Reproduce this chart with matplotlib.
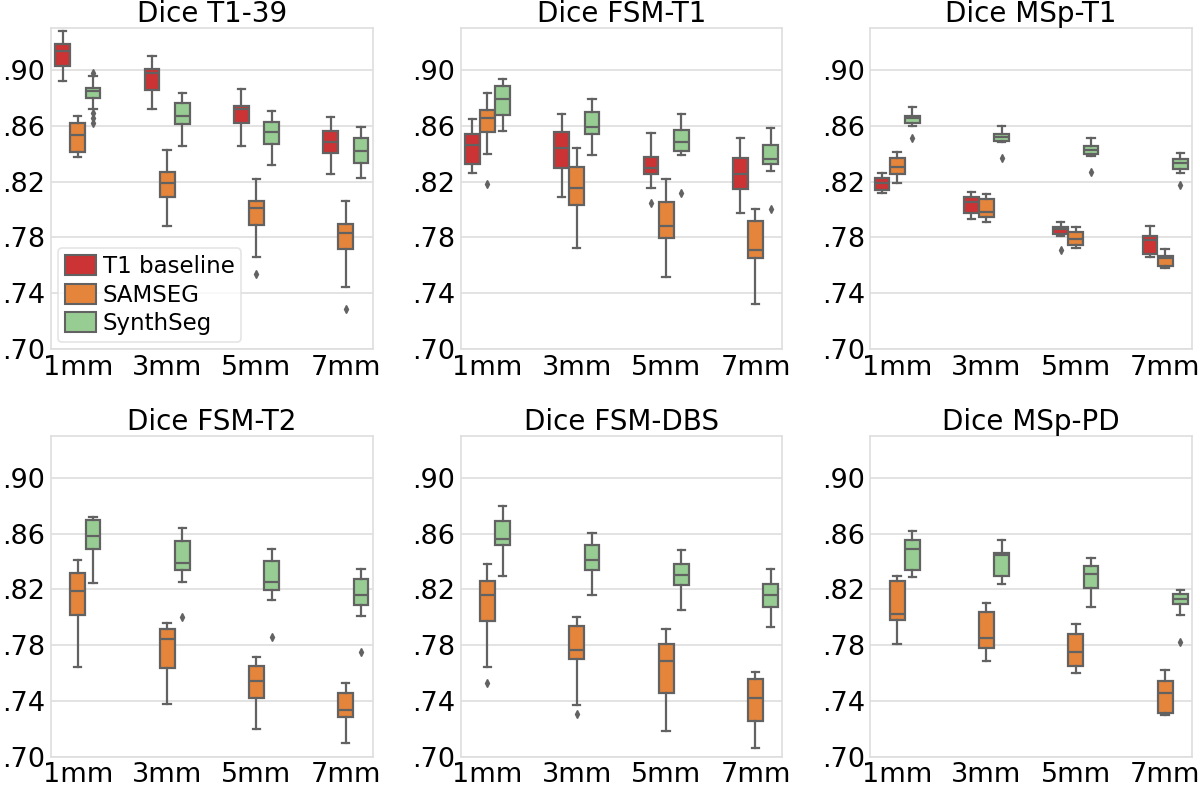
import matplotlib
matplotlib.use("Agg")
import matplotlib.pyplot as plt
from matplotlib.patches import Patch

categories = ["1mm", "3mm", "5mm", "7mm"]
methods = ["T1 baseline", "SAMSEG", "SynthSeg"]
titles = ["Dice T1-39", "Dice FSM-T1", "Dice MSp-T1",
          "Dice FSM-T2", "Dice FSM-DBS", "Dice MSp-PD"]
yticks = [0.70, 0.74, 0.78, 0.82, 0.86, 0.90]
ytick_labels = [".70", ".74", ".78", ".82", ".86", ".90"]

# (whisker low, Q1, median, Q3, whisker high) for 1mm, 3mm, 5mm, 7mm
t139_t1 = [(0.8924, 0.9029, 0.9139, 0.9184, 0.9280),
           (0.8723, 0.8861, 0.8976, 0.9007, 0.9103),
           (0.8455, 0.8618, 0.8720, 0.8742, 0.8864),
           (0.8252, 0.8403, 0.8481, 0.8565, 0.8661)]
t139_sam = [(0.8374, 0.8415, 0.8534, 0.8622, 0.8673),
            (0.7882, 0.8087, 0.8192, 0.8266, 0.8427),
            (0.7657, 0.7887, 0.8008, 0.8061, 0.8219),
            (0.7447, 0.7714, 0.7829, 0.7896, 0.8063)]
t139_syn = [(0.8720, 0.8802, 0.8852, 0.8873, 0.8957),
            (0.8455, 0.8611, 0.8673, 0.8766, 0.8838),
            (0.8319, 0.8467, 0.8558, 0.8630, 0.8708),
            (0.8228, 0.8331, 0.8422, 0.8515, 0.8589)]
t139_t1_out = [[], [], [], []]
t139_sam_out = [[], [], [0.7538], [0.7287]]
t139_syn_out = [[0.8980, 0.8690, 0.8660, 0.8618], [], [], []]

fsmt1_t1 = [(0.8259, 0.8324, 0.8462, 0.8541, 0.8649),
            (0.8087, 0.8295, 0.8438, 0.8556, 0.8685),
            (0.8152, 0.8255, 0.8300, 0.8379, 0.8551),
            (0.7973, 0.8145, 0.8255, 0.8372, 0.8515)]
fsmt1_sam = [(0.8395, 0.8556, 0.8654, 0.8713, 0.8838),
             (0.7726, 0.8032, 0.8152, 0.8307, 0.8443),
             (0.7514, 0.7798, 0.7884, 0.8056, 0.8219),
             (0.7323, 0.7655, 0.7710, 0.7918, 0.8001)]
fsmt1_syn = [(0.8563, 0.8677, 0.8790, 0.8885, 0.8933),
             (0.8391, 0.8539, 0.8589, 0.8697, 0.8790),
             (0.8391, 0.8422, 0.8486, 0.8570, 0.8682),
             (0.8278, 0.8324, 0.8362, 0.8462, 0.8587)]
fsmt1_t1_out = [[], [], [0.8044], []]
fsmt1_sam_out = [[0.8180], [], [], []]
fsmt1_syn_out = [[], [], [0.8121], [0.8004]]

mspt1_t1 = [(0.8116, 0.8140, 0.8192, 0.8228, 0.8259),
            (0.7930, 0.7973, 0.8051, 0.8092, 0.8128),
            (0.7812, 0.7824, 0.7858, 0.7877, 0.7913),
            (0.7657, 0.7681, 0.7781, 0.7810, 0.7884)]
mspt1_sam = [(0.8188, 0.8252, 0.8307, 0.8372, 0.8415),
             (0.7908, 0.7949, 0.7984, 0.8075, 0.8109),
             (0.7722, 0.7746, 0.7786, 0.7836, 0.7872),
             (0.7583, 0.7597, 0.7655, 0.7667, 0.7714)]
mspt1_syn = [(0.8599, 0.8618, 0.8654, 0.8673, 0.8737),
             (0.8481, 0.8491, 0.8522, 0.8541, 0.8599),
             (0.8386, 0.8395, 0.8427, 0.8455, 0.8510),
             (0.8259, 0.8288, 0.8331, 0.8360, 0.8407)]
mspt1_t1_out = [[], [], [0.7710], []]
mspt1_sam_out = [[], [], [], []]
mspt1_syn_out = [[0.8515], [0.8367], [0.8271], [0.8176]]

fsmt2_sam = [(0.7642, 0.8013, 0.8188, 0.8320, 0.8408),
             (0.7378, 0.7635, 0.7846, 0.7917, 0.7958),
             (0.7199, 0.7419, 0.7541, 0.7649, 0.7714),
             (0.7098, 0.7283, 0.7338, 0.7457, 0.7527)]
fsmt2_syn = [(0.8248, 0.8487, 0.8583, 0.8696, 0.8720),
             (0.8253, 0.8337, 0.8389, 0.8545, 0.8643),
             (0.8121, 0.8198, 0.8253, 0.8404, 0.8492),
             (0.8006, 0.8085, 0.8157, 0.8272, 0.8349)]
fsmt2_sam_out = [[], [], [], []]
fsmt2_syn_out = [[], [0.8001], [0.7857], [0.7750]]

fsmdbs_sam = [(0.7642, 0.7972, 0.8157, 0.8257, 0.8384),
              (0.7371, 0.7702, 0.7762, 0.7941, 0.8001),
              (0.7187, 0.7455, 0.7690, 0.7805, 0.7917),
              (0.7062, 0.7259, 0.7419, 0.7558, 0.7611)]
fsmdbs_syn = [(0.8296, 0.8516, 0.8559, 0.8691, 0.8799),
              (0.8162, 0.8337, 0.8408, 0.8521, 0.8607),
              (0.8049, 0.8234, 0.8305, 0.8384, 0.8480),
              (0.7929, 0.8073, 0.8157, 0.8241, 0.8344)]
fsmdbs_sam_out = [[0.7529], [0.7307], [], []]
fsmdbs_syn_out = [[], [], [], []]

msppd_sam = [(0.7805, 0.7977, 0.8025, 0.8260, 0.8296),
             (0.7685, 0.7781, 0.7853, 0.8037, 0.8102),
             (0.7599, 0.7647, 0.7754, 0.7881, 0.7949),
             (0.7302, 0.7311, 0.7457, 0.7546, 0.7623)]
msppd_syn = [(0.8289, 0.8337, 0.8487, 0.8552, 0.8617),
             (0.8241, 0.8293, 0.8444, 0.8463, 0.8552),
             (0.8073, 0.8210, 0.8313, 0.8365, 0.8425),
             (0.8013, 0.8097, 0.8133, 0.8169, 0.8198)]
msppd_sam_out = [[], [], [], []]
msppd_syn_out = [[], [], [], [0.7822]]

panels = [
    [(t139_t1, t139_t1_out), (t139_sam, t139_sam_out), (t139_syn, t139_syn_out)],
    [(fsmt1_t1, fsmt1_t1_out), (fsmt1_sam, fsmt1_sam_out), (fsmt1_syn, fsmt1_syn_out)],
    [(mspt1_t1, mspt1_t1_out), (mspt1_sam, mspt1_sam_out), (mspt1_syn, mspt1_syn_out)],
    [None, (fsmt2_sam, fsmt2_sam_out), (fsmt2_syn, fsmt2_syn_out)],
    [None, (fsmdbs_sam, fsmdbs_sam_out), (fsmdbs_syn, fsmdbs_syn_out)],
    [None, (msppd_sam, msppd_sam_out), (msppd_syn, msppd_syn_out)],
]

colors = ["#cb3335", "#e5843b", "#97cd92"]
edge = "#626262"
grid_c = "#dedede"
offsets = [-0.17, 0.0, 0.17]
box_w = 0.165

fig = plt.figure(figsize=(12, 7.88), dpi=100)
lefts = [0.0425, 0.3839, 0.7253]
bottoms = [0.5571, 0.0397]
w, h = 0.268, 0.407

for p, series in enumerate(panels):
    r, c = divmod(p, 3)
    ax = fig.add_axes([lefts[c], bottoms[r], w, h])
    for m, s in enumerate(series):
        if s is None:
            continue
        vals, outs = s
        stats = []
        pos = []
        for i, (lo, q1, med, q3, hi) in enumerate(vals):
            stats.append(dict(whislo=lo, q1=q1, med=med, q3=q3, whishi=hi,
                              fliers=outs[i]))
            pos.append(i + offsets[m])
        ax.bxp(stats, positions=pos, widths=box_w, patch_artist=True,
               showfliers=True, manage_ticks=False,
               boxprops=dict(facecolor=colors[m], edgecolor=edge, linewidth=1.6),
               medianprops=dict(color=edge, linewidth=1.6),
               whiskerprops=dict(color=edge, linewidth=1.6),
               capprops=dict(color=edge, linewidth=1.6),
               flierprops=dict(marker="d", markersize=4, markerfacecolor=edge,
                               markeredgecolor=edge, linestyle="none"),
               zorder=3)
    ax.set_xlim(-0.3, 3.3)
    ax.set_ylim(0.70, 0.93)
    ax.set_xticks(range(len(categories)))
    ax.set_xticklabels(categories)
    ax.set_yticks(yticks)
    ax.set_yticklabels(ytick_labels)
    ax.tick_params(axis="both", length=0, labelsize=19.5, pad=4)
    ax.grid(axis="y", color=grid_c, linewidth=1.2, zorder=0)
    ax.set_axisbelow(True)
    for sp in ax.spines.values():
        sp.set_color(grid_c)
        sp.set_linewidth(1.2)
    ax.set_title(titles[p], fontsize=20, pad=4)
    if p == 0:
        handles = [Patch(facecolor=colors[k], edgecolor=edge, linewidth=1.5,
                         label=methods[k]) for k in range(3)]
        leg = ax.legend(handles=handles, loc="lower left", fontsize=16.5,
                        borderaxespad=0.3, labelspacing=0.25, handletextpad=0.3,
                        handlelength=1.35, handleheight=0.95, borderpad=0.3,
                        frameon=True, fancybox=True)
        leg.get_frame().set_edgecolor(grid_c)
        leg.get_frame().set_linewidth(1.2)

fig.savefig("out.png", dpi=100)
